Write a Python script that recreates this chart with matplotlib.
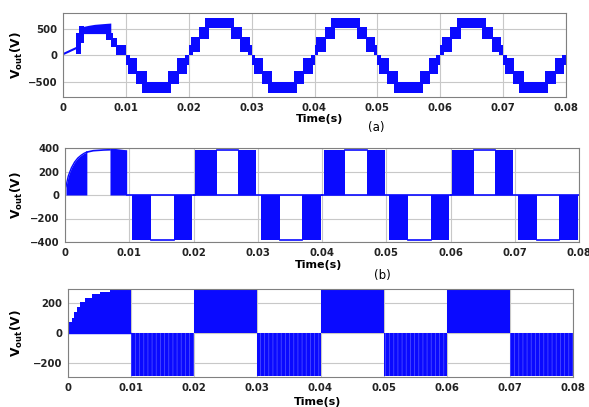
import matplotlib
matplotlib.use('Agg')
import matplotlib.pyplot as plt
import numpy as np

plt.rcParams['font.family'] = ['DejaVu Sans']
plt.rcParams['mathtext.fontset'] = 'dejavusans'
plt.rcParams['hatch.linewidth'] = 0.6

BLUE = '#0a0aff'
MS = 1e-3

x_ticks = [0, 0.01, 0.02, 0.03, 0.04, 0.05, 0.06, 0.07, 0.08]
x_labels = ['0', '0.01', '0.02', '0.03', '0.04', '0.05', '0.06', '0.07', '0.08']

# ---- (a) staircase output, one positive half-cycle (ms from start of half-cycle)
a_band_t0 = [0.0, 0.3, 1.6, 2.6, 6.7, 8.2, 9.4]
a_band_t1 = [0.6, 1.8, 3.3, 7.2, 8.4, 9.7, 10.0]
a_band_lo = [0, 60, 300, 510, 300, 60, 0]
a_band_hi = [190, 350, 540, 705, 540, 350, 190]
# half-cycles after start-up (ms) and their sign
a_half_start = [10, 20, 30, 40, 50, 60, 70]
a_half_sign = [-1, 1, -1, 1, -1, 1, -1]
# start-up half-cycle (0 - 10 ms)
a_ramp_t = [0.0, 2.0]
a_ramp_v = [20, 130]
a_up_t0 = [2.0, 2.5, 6.8, 7.6, 8.4]
a_up_t1 = [2.8, 3.4, 7.9, 8.6, 10.0]
a_up_lo = [20, 240, 280, 160, 0]
a_up_hi = [420, 550, 425, 330, 200]
a_top_t = [3.0, 4.0, 5.0, 6.5, 7.6]
a_top_lo = [410, 410, 410, 410, 410]
a_top_hi = [540, 565, 585, 600, 610]

# ---- (b) three-level PWM output
b_env_t = [0.15, 0.5, 1.0, 1.5, 2.0, 2.5, 3.0, 3.4]
b_env_v = [72, 160, 232, 281, 315, 338, 356, 365]
b_flat0_t = [3.4, 4.4, 6.0, 7.0]
b_flat0_v = [365, 377, 383, 385]
b_pwm0_t = [7.0, 8.0, 9.0, 9.6]
b_pwm0_v = [400, 395, 388, 385]
# repeating pattern per 20 ms period (ms from period start)
b_band_t0 = [0.3, 7.0, 10.5, 16.9]
b_band_t1 = [3.6, 9.8, 13.4, 19.8]
b_band_sign = [1, 1, -1, -1]
b_flat_t0 = [3.6, 13.4]
b_flat_t1 = [7.0, 16.9]
b_flat_sign = [1, -1]
b_level = 380
b_period_start = [20, 40, 60]

# ---- (c) two-level square-wave output
c_env_t = [0, 0.6, 0.95, 1.4, 1.9, 2.7, 3.8, 5.1, 6.7, 8.0, 10.0]
c_env_v = [75, 100, 140, 175, 205, 235, 260, 278, 287, 290, 290]
c_half_start = [10, 20, 30, 40, 50, 60, 70]
c_half_sign = [-1, 1, -1, 1, -1, 1, -1]
c_level = 290

W, H = 589, 407
fig = plt.figure(figsize=(W / 100, H / 100), dpi=100)


def make_axes(l, r, t, b):
    return fig.add_axes([l / W, 1 - b / H, (r - l) / W, (b - t) / H])


def style(ax, ylim, yticks, lx, ly):
    ax.set_xlim(0, 0.08)
    ax.set_ylim(*ylim)
    ax.set_xticks(x_ticks)
    ax.set_xticklabels(x_labels)
    ax.set_yticks(yticks)
    ax.tick_params(length=0, labelsize=7.3, pad=4, colors='#222222')
    for lab in ax.get_xticklabels() + ax.get_yticklabels():
        lab.set_fontweight('bold')
    ax.grid(True, color='#c8c8c8', linewidth=0.8)
    ax.set_axisbelow(True)
    for s in ax.spines.values():
        s.set_color('#808080')
        s.set_linewidth(0.8)
    ax.set_ylabel(r'$\mathbf{V_{out}}$(V)', fontsize=8.8, fontweight='bold')
    ax.yaxis.set_label_coords(lx, ly)


def band(ax, t0, t1, lo, hi, **kw):
    ax.fill_between([t0 * MS, t1 * MS], [lo, lo], [hi, hi], color=BLUE, lw=0, **kw)


# ---------------- (a)
ax1 = make_axes(63, 566, 13, 97)
ax1.plot(np.array(a_ramp_t) * MS, a_ramp_v, color=BLUE, lw=1.5)
for t0, t1, lo, hi in zip(a_up_t0, a_up_t1, a_up_lo, a_up_hi):
    band(ax1, t0, t1, lo, hi)
ax1.fill_between(np.array(a_top_t) * MS, a_top_lo, a_top_hi, color=BLUE, lw=0)
for start, sign in zip(a_half_start, a_half_sign):
    for t0, t1, lo, hi in zip(a_band_t0, a_band_t1, a_band_lo, a_band_hi):
        if sign > 0:
            band(ax1, start + t0, start + t1, lo, hi)
        else:
            band(ax1, start + t0, start + t1, -hi, -lo)
style(ax1, (-790, 800), [-500, 0, 500], -0.075, 0.5)

# ---------------- (b)
ax2 = make_axes(65, 579, 148, 242)
ax2.fill_between(np.array(b_env_t) * MS, 0, b_env_v, color=BLUE, lw=0)
ax2.plot(np.array(b_env_t) * MS, b_env_v, color=BLUE, lw=1)
ax2.plot(np.array(b_flat0_t) * MS, b_flat0_v, color=BLUE, lw=1.2)
ax2.fill_between(np.array(b_pwm0_t) * MS, 0, b_pwm0_v, color=BLUE, lw=0)
# negative half of first period
ax2.plot([9.6 * MS, 20.3 * MS], [0, 0], color=BLUE, lw=1.2)
for t0, t1, sg in zip(b_band_t0[2:], b_band_t1[2:], b_band_sign[2:]):
    band(ax2, t0, t1, 0, sg * b_level)
ax2.plot([13.4 * MS, 16.9 * MS], [-b_level, -b_level], color=BLUE, lw=1.2)
for p in b_period_start:
    ax2.plot([p * MS, (p + 20) * MS], [0, 0], color=BLUE, lw=1.2)
    for t0, t1, sg in zip(b_band_t0, b_band_t1, b_band_sign):
        band(ax2, p + t0, p + t1, 0, sg * b_level)
    for t0, t1, sg in zip(b_flat_t0, b_flat_t1, b_flat_sign):
        ax2.plot([(p + t0) * MS, (p + t1) * MS], [sg * b_level] * 2,
                 color=BLUE, lw=1.2)
style(ax2, (-400, 400), [-400, -200, 0, 200, 400], -0.077, 0.5)

# ---------------- (c)
ax3 = make_axes(68, 573, 289, 377)
ax3.fill_between(np.array(c_env_t) * MS, 0, c_env_v, step='post', color=BLUE, lw=0)
ax3.plot([0, 10 * MS], [0, 0], color=BLUE, lw=1)
for start, sign in zip(c_half_start, c_half_sign):
    if sign < 0:
        # negative half-cycles look finely striped in the original
        ax3.fill_between([start * MS, (start + 10) * MS], [0, 0],
                         [sign * c_level] * 2, facecolor=BLUE,
                         edgecolor='#4a4aff', hatch='||||', lw=0)
    else:
        band(ax3, start, start + 10, 0, sign * c_level)
style(ax3, (-295, 295), [-200, 0, 200], -0.085, 0.5)

# axis titles and panel letters
fig.text(320 / W, 1 - 119 / H, 'Time(s)', ha='center', va='center',
         fontsize=8, fontweight='bold')
fig.text(376 / W, 1 - 127 / H, '(a)', ha='center', va='center', fontsize=8.5)
fig.text(319 / W, 1 - 265 / H, 'Time(s)', ha='center', va='center',
         fontsize=8, fontweight='bold')
fig.text(382 / W, 1 - 276 / H, '(b)', ha='center', va='center', fontsize=8.5)
fig.text(318 / W, 1 - 402 / H, 'Time(s)', ha='center', va='center',
         fontsize=8, fontweight='bold')

fig.savefig('out.png', dpi=100)
